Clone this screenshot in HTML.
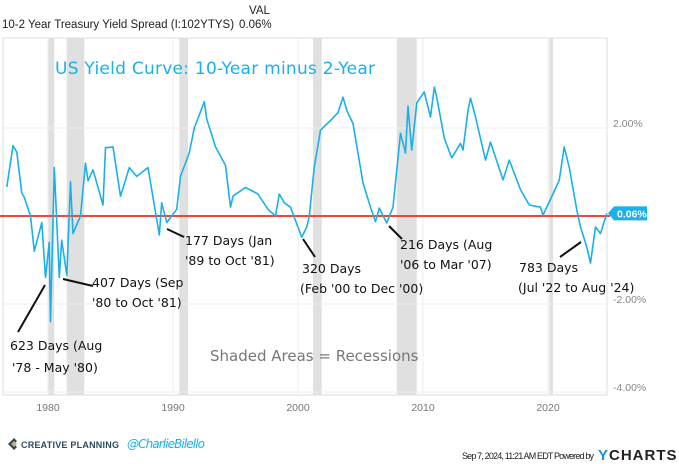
<!DOCTYPE html>
<html><head><meta charset="utf-8">
<style>
html,body{margin:0;padding:0;background:#fff;width:679px;height:464px;overflow:hidden;font-family:"Liberation Sans",sans-serif}
svg{display:block}
.ann{font-family:"DejaVu Sans",sans-serif;font-size:12.5px;fill:#111}
</style></head>
<body>
<svg width="679" height="464" viewBox="0 0 679 464" xmlns="http://www.w3.org/2000/svg">
<text x="2" y="28" font-size="11.5" fill="#222">10-2 Year Treasury Yield Spread (I:102YTYS)</text>
<text x="249" y="14" font-size="11.5" fill="#222">VAL</text>
<text x="239" y="28" font-size="11.5" fill="#222">0.06%</text>
<g id="plot"></g>
<text x="55" y="74" font-family="DejaVu Sans,sans-serif" font-size="17" fill="#1ab0e8" textLength="320">US Yield Curve: 10-Year minus 2-Year</text>
<text x="210" y="361" font-family="DejaVu Sans,sans-serif" font-size="15" fill="#777">Shaded Areas = Recessions</text>
<g>
<path d="M14 438 L8 444 L14 450 L17 447 L14 444 L17 441 Z" fill="#2c4a5e"/>
<path d="M14 441 L17 444 L14 447 L11 444 Z" fill="#c9ad7a"/>
<text x="21" y="448" font-size="9" font-weight="bold" fill="#2c4a5e" textLength="98">CREATIVE PLANNING</text>
<text x="127" y="448" font-family="DejaVu Sans,sans-serif" font-style="italic" font-size="12" fill="#1ab0e8" textLength="78">@CharlieBilello</text>
</g>
<text x="462" y="459" font-size="9" fill="#222" textLength="132">Sep 7, 2024, 11:21 AM EDT Powered by</text>
<text x="598" y="460" font-size="15" font-weight="bold" fill="#222" letter-spacing="1"><tspan fill="#1a8fd6">Y</tspan>CHARTS</text>
</svg>
<script>
const years=[1976.7,1977.2,1977.5,1977.9,1978.1,1978.6,1978.9,1979.5,1979.8,1980.1,1980.2,1980.5,1980.9,1981.1,1981.5,1981.8,1982.0,1982.6,1983.0,1983.2,1983.6,1984.4,1984.6,1985.2,1985.8,1986.5,1987.1,1988.0,1988.9,1989.1,1989.5,1990.3,1990.6,1991.3,1991.7,1992.5,1992.7,1993.4,1994.2,1994.6,1994.8,1995.8,1996.8,1997.6,1998.2,1998.5,1998.9,1999.4,2000.3,2000.7,2000.9,2001.3,2001.8,2002.7,2003.2,2003.6,2003.9,2004.4,2004.8,2005.2,2005.8,2006.2,2006.5,2007.1,2007.6,2008.2,2008.6,2008.8,2009.1,2009.5,2010.1,2010.6,2010.9,2011.1,2011.7,2012.3,2013.0,2013.2,2013.6,2013.8,2014.2,2015.0,2015.4,2016.4,2016.9,2017.8,2018.5,2019.4,2019.6,2020.4,2020.9,2021.3,2021.7,2022.3,2022.6,2023.1,2023.4,2023.8,2024.2,2024.7];
const spread=[0.66,1.6,1.45,0.52,0.43,0.0,-0.8,-0.15,-1.4,-0.6,-2.4,1.1,-1.4,-0.55,-1.35,0.78,-0.4,0.0,1.2,0.8,1.05,0.25,1.55,1.57,0.45,1.1,0.9,1.1,-0.43,0.3,-0.15,0.15,0.9,1.43,2.0,2.6,2.2,1.57,1.15,0.2,0.45,0.65,0.5,0.15,0.0,0.5,0.3,0.2,-0.48,-0.25,0.0,1.1,1.95,2.2,2.35,2.7,2.4,2.1,1.43,0.75,0.2,-0.13,0.18,-0.16,0.2,1.88,1.43,2.5,1.5,2.57,2.82,2.25,2.93,2.7,1.77,1.32,1.65,1.5,2.4,2.68,2.25,1.27,1.68,0.82,1.27,0.6,0.25,0.2,0.02,0.5,0.82,1.57,1.1,0.15,-0.25,-0.7,-1.07,-0.25,-0.4,0.06];
const recessionStarts=[1980.0,1981.5,1990.5,2001.2,2007.9,2020.1];
const recessionEnds=[1980.5,1982.9,1991.2,2001.9,2009.5,2020.4];
const xTicks=[1980,1990,2000,2010,2020];
const yTicks=[2,-2,-4];
const yTickLabels=["2.00%","-2.00%","-4.00%"];
const lastValue=0.06;
const NS="http://www.w3.org/2000/svg";
const L=3,R=607,T=38,B=395;
const xs=y=>48+(y-1980)*12.5;
const ys=v=>216-44*v;
const g=document.getElementById('plot');
function mk(tag,attrs){const e=document.createElementNS(NS,tag);for(const k in attrs)e.setAttribute(k,attrs[k]);g.appendChild(e);return e;}
const frame=mk('rect',{x:L,y:T,width:R-L,height:B-T,fill:'none',stroke:'#ddd','stroke-width':1});


recessionStarts.forEach((s,i)=>{
 const r=mk('rect',{x:xs(s),y:T,width:xs(recessionEnds[i])-xs(s),height:B-T,fill:'#e0e0e0'});
 
 
});
xTicks.forEach(t=>{
 const l=mk('line',{x1:xs(t),x2:xs(t),y1:T,y2:B,stroke:'#eee','stroke-width':1});
 
 
 const tx=mk('text',{x:xs(t),y:411,'text-anchor':'middle','font-size':'10.5',fill:'#777'});
 tx.textContent=t;
 
 
});
yTicks.forEach((t,i)=>{
 const l=mk('line',{x1:L,x2:R,y1:ys(t),y2:ys(t),stroke:'#eee','stroke-width':1});
 
 
 const tx=mk('text',{x:613,y:ys(t)-1,'font-size':'10.5',fill:'#888'});
 tx.textContent=yTickLabels[i];
 
 
});
const zl=mk('line',{x1:0,x2:R+3,y1:ys(0),y2:ys(0),stroke:'#f2453d','stroke-width':2});


const pts=years.map((y,i)=>xs(y).toFixed(1)+','+ys(spread[i]).toFixed(1)).join(' ');
const pl=mk('polyline',{points:pts,fill:'none',stroke:'#1ab0e8','stroke-width':1.6,'stroke-linejoin':'round'});


const by=ys(lastValue);
const badge=mk('path',{d:`M${R+1} ${by} L${R+7} ${by-7} L${R+40} ${by-7} L${R+40} ${by+7} L${R+7} ${by+7} Z`,fill:'#1ab0e8'});


const bt=mk('text',{x:R+10,y:by+4,'font-size':'10.5','font-weight':'bold',fill:'#fff'});
bt.textContent=lastValue.toFixed(2)+'%';


const anns=[
 {l:[18,332,45,285],t:[["623 Days (Aug",10,350],["'78 - May '80)",12,372]]},
 {l:[63,279,93,286],t:[["407 Days (Sep",92,287],["'80 to Oct '81)",92,307]]},
 {l:[167,229,184,237],t:[["177 Days (Jan",185,245],["'89 to Oct '81)",185,265]]},
 {l:[303,239,315,257],t:[["320 Days",302,273],["(Feb '00 to Dec '00)",300,293]]},
 {l:[389,226,402,239],t:[["216 Days (Aug",400,249],["'06 to Mar '07)",400,269]]},
 {l:[560,257,581,242],t:[["783 Days",519,272],["(Jul '22 to Aug '24)",518,292]]}
];
anns.forEach(a=>{
 const ln=mk('line',{x1:a.l[0],y1:a.l[1],x2:a.l[2],y2:a.l[3],stroke:'#111','stroke-width':2});
 
 
 a.t.forEach(s=>{
  const tx=mk('text',{x:s[1],y:s[2],class:'ann'});
  tx.textContent=s[0];
  
  
 });
});
</script>
</body></html>
